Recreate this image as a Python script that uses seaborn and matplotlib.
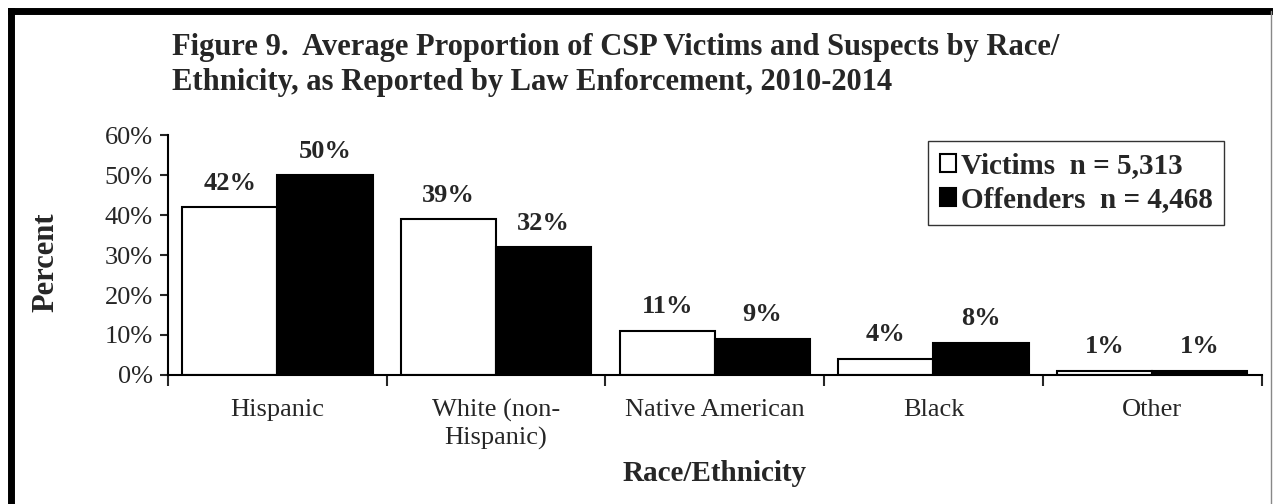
import pandas as pd
import numpy as np
import matplotlib
matplotlib.use("Agg")
import matplotlib.pyplot as plt
import matplotlib.ticker as mticker
from matplotlib.lines import Line2D
import seaborn as sb

categories = ["Hispanic", "White (non-\nHispanic)", "Native American", "Black", "Other"]
groups = ["Victims  n = 5,313", "Offenders  n = 4,468"]
victims = [42, 39, 11, 4, 1]
offenders = [50, 32, 9, 8, 1]

df = pd.DataFrame({
    "race": categories * 2,
    "group": [groups[0]] * len(categories) + [groups[1]] * len(categories),
    "pct": victims + offenders,
})

sb.set_style("white")
plt.rcParams["font.family"] = ["Liberation Serif", "DejaVu Serif"]

fig = plt.figure(figsize=(12.73, 5.04), dpi=100)
ax = fig.add_axes([0.132, 0.256, 0.859, 0.476])

sb.barplot(data=df, x="race", y="pct", hue="group", palette=["white", "black"],
           edgecolor="black", linewidth=1.5, width=0.87, saturation=1, ax=ax)

# value labels above the bars
for cont in ax.containers:
    ax.bar_label(cont, labels=[f"{v:.0f}%" for v in cont.datavalues], padding=9,
                 fontsize=19, fontweight="bold")

ax.set_xlim(-0.5, 4.5)
ax.set_ylim(0, 60)
ax.yaxis.set_major_locator(mticker.MultipleLocator(10))
ax.yaxis.set_major_formatter(mticker.FuncFormatter(lambda v, p: f"{v:.0f}%"))

# tick marks between categories, labels at centres
ax.set_xticks(np.arange(-0.5, 5, 1))
ax.set_xticklabels([])
ax.set_xticks(np.arange(5), minor=True)
ax.set_xticklabels(categories, minor=True, fontsize=19, linespacing=1.3)
ax.tick_params(axis="x", which="major", direction="out", length=8, width=1.5, bottom=True)
ax.tick_params(axis="x", which="minor", length=0, pad=17)
ax.tick_params(axis="y", direction="out", length=6, width=1.5, left=True, labelsize=19, pad=5)

for s in ["top", "right"]:
    ax.spines[s].set_visible(False)
for s in ["left", "bottom"]:
    ax.spines[s].set_color("black")
    ax.spines[s].set_linewidth(1.5)

ax.set_xlabel("Race/Ethnicity", fontsize=21, fontweight="bold", labelpad=7)
ax.set_ylabel("Percent", fontsize=22, fontweight="bold")
ax.yaxis.set_label_coords(-0.098, 0.47)

handles, labels = ax.get_legend_handles_labels()
leg = ax.legend(handles, labels, loc="upper right", bbox_to_anchor=(0.966, 0.975),
                prop={"weight": "bold", "size": 21},
                frameon=True, fancybox=False, edgecolor="black",
                handlelength=0.55, handleheight=0.55, handletextpad=0.2,
                borderpad=0.38, borderaxespad=0, labelspacing=0.25)
leg.get_frame().set_linewidth(1.0)

fig.text(0.135, 0.935, "Figure 9.  Average Proportion of CSP Victims and Suspects by Race/\n"
         "Ethnicity, as Reported by Law Enforcement, 2010-2014",
         fontsize=22, fontweight="bold", va="top", ha="left", linespacing=1.3)

# outer frame: thick left and top, thin grey right edge
fig.add_artist(Line2D([0.0088, 0.0088], [0, 0.978], transform=fig.transFigure,
                      color="black", linewidth=5, solid_capstyle="projecting"))
fig.add_artist(Line2D([0.0088, 0.997], [0.978, 0.978], transform=fig.transFigure,
                      color="black", linewidth=5, solid_capstyle="projecting"))
fig.add_artist(Line2D([0.9985, 0.9985], [0, 0.978], transform=fig.transFigure,
                      color="#888888", linewidth=1))

fig.savefig("out.png", dpi=100)
